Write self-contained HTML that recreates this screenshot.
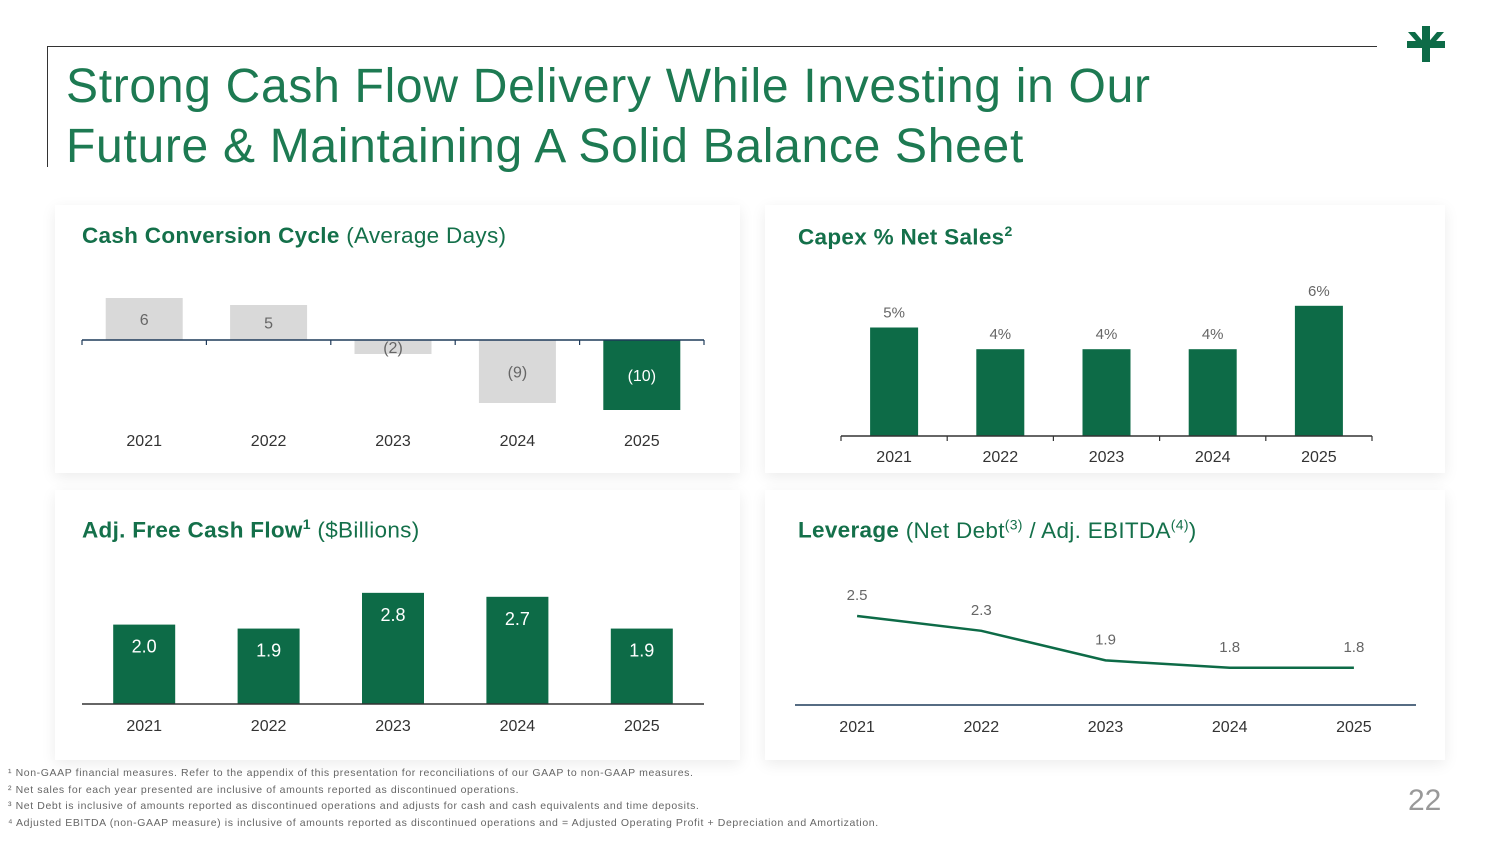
<!DOCTYPE html>
<html><head><meta charset="utf-8">
<style>
body{margin:0;width:1500px;height:844px;background:#fff;font-family:"Liberation Sans",sans-serif;overflow:hidden;position:relative}
.card{position:absolute;background:#fff;box-shadow:0 4px 14px rgba(0,0,0,0.08)}
.title{position:absolute;left:66px;top:57px;font-size:48px;color:#1d7a52;line-height:60px;letter-spacing:0.7px}
.ct{position:absolute;font-size:22.5px;color:#14704a;font-weight:bold;letter-spacing:0.3px}
.ct span{font-weight:normal}
.fn{position:absolute;left:8px;font-size:10.5px;color:#666;letter-spacing:0.6px}
svg text{font-family:"Liberation Sans",sans-serif}
</style></head><body>
<div style="position:absolute;left:47px;top:46px;width:1330px;height:1px;background:#333"></div>
<div style="position:absolute;left:47px;top:46px;width:1px;height:121px;background:#333"></div>
<div class="title">Strong Cash Flow Delivery While Investing in Our<br>Future &amp; Maintaining A Solid Balance Sheet</div>
<svg style="position:absolute;left:1405px;top:26px" width="42" height="36" viewBox="0 0 42 36"><g fill="#0d6b47"><rect x="17" y="0" width="8" height="36"/><rect x="2" y="15" width="38" height="7"/><polygon points="3,6 10,6 21,19 17,22"/><polygon points="39,6 32,6 21,19 25,22"/></g></svg>

<div class="card" style="left:55px;top:205px;width:685px;height:268px"></div>
<div class="card" style="left:765px;top:205px;width:680px;height:268px"></div>
<div class="card" style="left:55px;top:490px;width:685px;height:270px"></div>
<div class="card" style="left:765px;top:490px;width:680px;height:270px"></div>

<div class="ct" style="left:82px;top:223px">Cash Conversion Cycle <span>(Average Days)</span></div>
<div class="ct" style="left:798px;top:223px">Capex % Net Sales<sup style="font-size:14px">2</sup></div>
<div class="ct" style="left:82px;top:516px">Adj. Free Cash Flow<sup style="font-size:14px">1</sup> <span>($Billions)</span></div>
<div class="ct" style="left:798px;top:516px">Leverage <span>(Net Debt<sup style="font-size:14px">(3)</sup> / Adj. EBITDA<sup style="font-size:14px">(4)</sup>)</span></div>

<svg id="chart" style="position:absolute;left:0;top:0" width="1500" height="844"></svg>

<div class="fn" style="top:767px">¹ Non-GAAP financial measures. Refer to the appendix of this presentation for reconciliations of our GAAP to non-GAAP measures.</div>
<div class="fn" style="top:784px">² Net sales for each year presented are inclusive of amounts reported as discontinued operations.</div>
<div class="fn" style="top:800px">³ Net Debt is inclusive of amounts reported as discontinued operations and adjusts for cash and cash equivalents and time deposits.</div>
<div class="fn" style="top:817px">⁴ Adjusted EBITDA (non-GAAP measure) is inclusive of amounts reported as discontinued operations and = Adjusted Operating Profit + Depreciation and Amortization.</div>
<div style="position:absolute;left:1408px;top:784px;font-size:30px;color:#999">22</div>

<script>
const years = ["2021","2022","2023","2024","2025"];
const cccValues = [6, 5, -2, -9, -10];
const cccLabels = ["6","5","(2)","(9)","(10)"];
const capexValues = [5, 4, 4, 4, 6];
const capexLabels = ["5%","4%","4%","4%","6%"];
const fcfValues = [2.0, 1.9, 2.8, 2.7, 1.9];
const levValues = [2.5, 2.3, 1.9, 1.8, 1.8];

const NS="http://www.w3.org/2000/svg";
const svg=document.getElementById('chart');
const G="#0d6b47", GR="#d9d9d9";
function el(t,a,txt){const e=document.createElementNS(NS,t);for(const k in a)e.setAttribute(k,a[k]);if(txt!==undefined)e.textContent=txt;svg.appendChild(e);return e;}
function axis(x0,x1,y,n,ticks,color){
  const l=el('line',{x1:x0,x2:x1,y1:y,y2:y,stroke:color,'stroke-width':1.5});
  
  if(ticks){const w=(x1-x0)/n;for(let i=0;i<=n;i++){const t=el('line',{x1:x0+i*w,x2:x0+i*w,y1:y,y2:y+5,stroke:color,'stroke-width':1.2});
    }}
}
function yearLabels(x0,x1,y){const w=(x1-x0)/years.length;years.forEach((yr,i)=>{
  const t=el('text',{x:x0+w*(i+0.5),y:y,'text-anchor':'middle','font-size':16,fill:'#333'},yr);
  });}

(function(){const x0=82,x1=704,y0=340,s=7,w=(x1-x0)/5,bw=77;
 cccValues.forEach((v,i)=>{const cx=x0+w*(i+0.5);const h=Math.abs(v)*s;const top=v>=0?y0-h:y0;
  const last=i===cccValues.length-1;
  const r=el('rect',{x:cx-bw/2,y:top,width:bw,height:h,fill:last?G:GR});
  
  const t=el('text',{x:cx,y:top+h/2+6,'text-anchor':'middle','font-size':16,fill:last?'#fff':'#666'},cccLabels[i]);
  });
 axis(x0,x1,y0,5,true,'#1f3b5a');yearLabels(x0,x1,446);})();

(function(){const x0=841,x1=1372,y0=436,s=21.7,w=(x1-x0)/5,bw=48;
 capexValues.forEach((v,i)=>{const cx=x0+w*(i+0.5),h=v*s;
  const r=el('rect',{x:cx-bw/2,y:y0-h,width:bw,height:h,fill:G});
  
  const t=el('text',{x:cx,y:y0-h-10,'text-anchor':'middle','font-size':15,fill:'#666'},capexLabels[i]);
  });
 axis(x0,x1,y0,5,true,'#333');yearLabels(x0,x1,462);})();

(function(){const x0=82,x1=704,y0=704,s=39.7,w=(x1-x0)/5,bw=62;
 fcfValues.forEach((v,i)=>{const cx=x0+w*(i+0.5),h=v*s;
  const r=el('rect',{x:cx-bw/2,y:y0-h,width:bw,height:h,fill:G});
  
  const t=el('text',{x:cx,y:y0-h+28,'text-anchor':'middle','font-size':18,fill:'#fff'},v.toFixed(1));
  });
 axis(x0,x1,y0,5,false,'#333');yearLabels(x0,x1,731);})();

(function(){const x0=795,x1=1416,w=(x1-x0)/5;const yf=v=>616-(v-2.5)*74;
 const pts=levValues.map((v,i)=>(x0+w*(i+0.5))+','+yf(v)).join(' ');
 const p=el('polyline',{points:pts,fill:'none',stroke:G,'stroke-width':2.5});
 
 levValues.forEach((v,i)=>{const t=el('text',{x:x0+w*(i+0.5),y:yf(v)-16,'text-anchor':'middle','font-size':15,fill:'#666'},v.toFixed(1));
  });
 axis(x0,x1,705,5,false,'#1f3b5a');yearLabels(x0,x1,732);})();
</script>
</body></html>
